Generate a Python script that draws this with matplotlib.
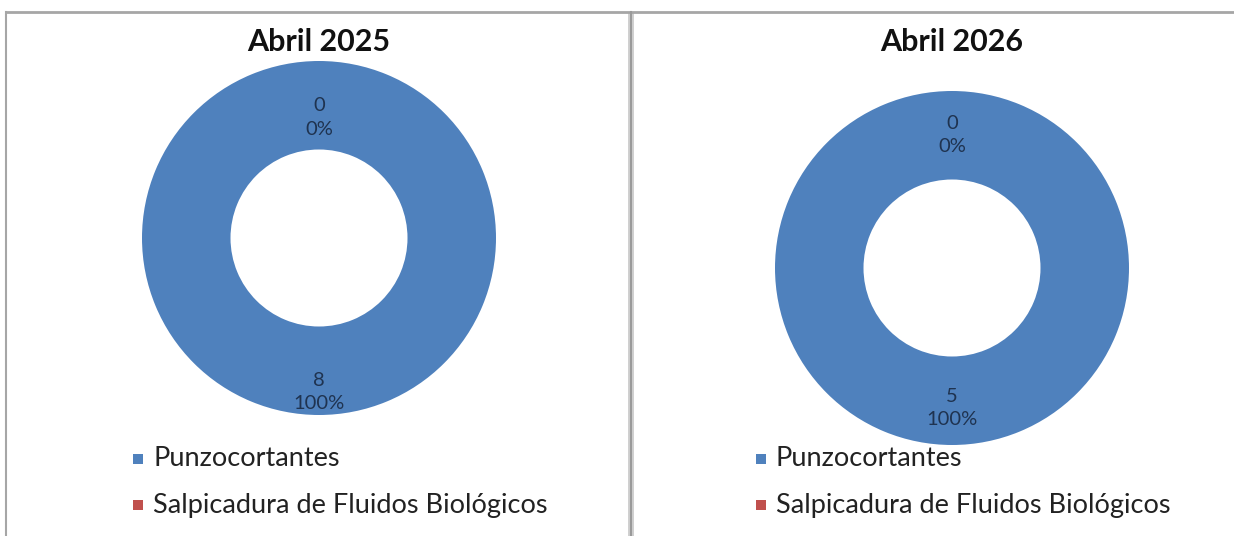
import matplotlib.pyplot as plt
from matplotlib.patches import Rectangle

categories = ["Punzocortantes", "Salpicadura de Fluidos Biológicos"]
titles = ["Abril 2025", "Abril 2026"]
values_2025 = [8, 0]
values_2026 = [5, 0]
colors = ["#4F81BD", "#C0504D"]

plt.rcParams["font.family"] = ["Lato", "DejaVu Sans"]

W, H = 1234, 536
fig = plt.figure(figsize=(W / 100, H / 100), dpi=100)
fig.patch.set_facecolor("white")


def px(x, y, w, h):
    # pixel box (top-left origin) -> figure fraction
    return [x / W, 1 - (y + h) / H, w / W, h / H]


# panel frames
line_col = "#a6a6a6"
fig.add_artist(plt.Line2D([6 / W, 6 / W], [0, 1 - 12 / H], transform=fig.transFigure, color=line_col, lw=1.5))
fig.add_artist(plt.Line2D([6 / W, 1], [1 - 12 / H, 1 - 12 / H], transform=fig.transFigure, color=line_col, lw=2))
fig.add_artist(Rectangle((628 / W, 0), 6 / W, 1 - 12 / H, transform=fig.transFigure,
                         facecolor="#d0d0d0", edgecolor="none"))
fig.add_artist(plt.Line2D([631 / W, 631 / W], [0, 1 - 12 / H], transform=fig.transFigure, color="#9a9a9a", lw=1.5))

# (values, title, centre x, centre y, legend x, top label pos, bottom label pos)
panels = [
    (values_2025, titles[0], 319, 238, 137, 0.68, -0.87),
    (values_2026, titles[1], 952, 268, 760, 0.75, -0.79),
]

R = 177
for vals, title, cx, cy, lx, ytop, ybot in panels:
    ax = fig.add_axes(px(cx - R, cy - R, 2 * R, 2 * R))
    total = sum(vals)
    ax.pie(vals, colors=colors, startangle=90, counterclock=False,
           radius=1.0, wedgeprops=dict(width=0.5, edgecolor="none"))
    ax.set_xlim(-1, 1)
    ax.set_ylim(-1, 1)
    ax.set_aspect("equal")
    ax.axis("off")
    # data labels
    lab_col = "#1f3350"
    ax.text(0, ytop, f"{vals[1]}\n{round(100 * vals[1] / total)}%", ha="center", va="center",
            fontsize=14.5, color=lab_col, linespacing=1.45)
    ax.text(0, ybot, f"{vals[0]}\n{round(100 * vals[0] / total)}%", ha="center", va="center",
            fontsize=14.5, color=lab_col, linespacing=1.45)
    fig.text(cx / W, 1 - 42 / H, title, ha="center", va="center", fontsize=22,
             fontweight="bold", color="#111111")
    # legend
    for i, (cat, c) in enumerate(zip(categories, colors)):
        yy = 459 + i * 46
        fig.add_artist(Rectangle(((lx - 4) / W, 1 - (yy + 5) / H), 10 / W, 10 / H,
                                 transform=fig.transFigure, facecolor=c, edgecolor="none"))
        fig.text((lx + 16) / W, 1 - yy / H, cat, ha="left", va="center",
                 fontsize=19.5, color="#222222")

fig.savefig("out.png", dpi=100)
